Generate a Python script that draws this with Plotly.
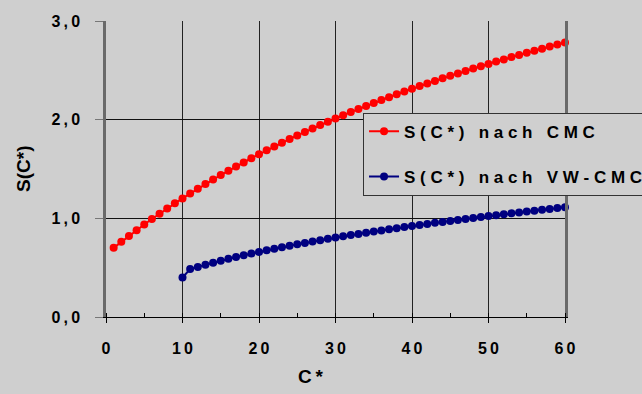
import plotly.graph_objects as go

# C* values and S(C*)
c_cmc = list(range(1, 61))
s_cmc = [0.701, 0.762, 0.822, 0.880, 0.937, 0.993, 1.047, 1.100, 1.152, 1.202,
         1.251, 1.300, 1.347, 1.393, 1.438, 1.482, 1.525, 1.567, 1.609, 1.649,
         1.689, 1.728, 1.766, 1.803, 1.840, 1.875, 1.911, 1.945, 1.979, 2.012,
         2.045, 2.077, 2.108, 2.139, 2.169, 2.199, 2.228, 2.257, 2.285, 2.313,
         2.340, 2.367, 2.393, 2.419, 2.444, 2.469, 2.494, 2.518, 2.542, 2.565,
         2.589, 2.611, 2.634, 2.656, 2.678, 2.699, 2.720, 2.741, 2.761, 2.781]

c_vw = list(range(10, 61))
s_vw = [0.400, 0.486, 0.508, 0.529, 0.550, 0.571, 0.590, 0.608, 0.626, 0.643,
        0.660, 0.676, 0.692, 0.707, 0.722, 0.737, 0.751, 0.765, 0.779, 0.792,
        0.805, 0.818, 0.830, 0.842, 0.854, 0.866, 0.877, 0.889, 0.900, 0.911,
        0.922, 0.933, 0.943, 0.954, 0.964, 0.974, 0.984, 0.994, 1.003, 1.013,
        1.023, 1.032, 1.041, 1.051, 1.060, 1.069, 1.078, 1.087, 1.095, 1.104,
        1.113]

x_ticks = [0, 10, 20, 30, 40, 50, 60]
x_tick_labels = ["0", "10", "20", "30", "40", "50", "60"]
y_ticks = [0, 1, 2, 3]
y_tick_labels = ["0,0", "1,0", "2,0", "3,0"]

name_cmc = "S(C*) nach CMC"
name_vw = "S(C*) nach VW-CMC"

BG = "#cfcfcf"
FONT = "Liberation Sans, Arial, sans-serif"


def spaced(text, gap="\u00a0"):
    # old Excel-style wide letter spacing
    return gap.join(list(text))


fig = go.Figure()

fig.add_trace(go.Scatter(
    x=c_cmc, y=s_cmc, name=spaced(name_cmc), mode="lines+markers",
    line=dict(color="#ff0000", width=2),
    marker=dict(color="#ff0000", size=8),
    cliponaxis=False, legendgroup="a"))

fig.add_trace(go.Scatter(
    x=c_vw, y=s_vw, name=spaced(name_vw), mode="lines+markers",
    line=dict(color="#000080", width=2),
    marker=dict(color="#000080", size=8),
    cliponaxis=False, legendgroup="b"))

fig.update_layout(
    width=642, height=394,
    paper_bgcolor=BG, plot_bgcolor=BG,
    margin=dict(l=106, r=77, t=21, b=77, autoexpand=False),
    font=dict(family=FONT, size=16, color="#000000", weight="bold"),
    showlegend=True,
    legend=dict(x=0.56, y=0.69, xanchor="left", yanchor="top",
                bgcolor=BG, bordercolor="#333333", borderwidth=1,
                font=dict(size=17, weight="bold"),
                traceorder="grouped", tracegroupgap=20),
    annotations=[
        dict(text=spaced("C*", "\u2009"), xref="paper", yref="paper",
             x=0.447, y=-0.2, xanchor="center", yanchor="middle",
             showarrow=False, font=dict(size=19, weight="bold")),
        dict(text="S(C*)", xref="paper", yref="paper",
             x=-0.181, y=0.5, xanchor="center", yanchor="middle",
             showarrow=False, textangle=-90,
             font=dict(size=19, weight="bold")),
    ],
)

fig.update_xaxes(
    range=[0, 60], tickvals=x_ticks,
    ticktext=[spaced(t, "\u2009") for t in x_tick_labels],
    showgrid=True, gridcolor="#222222", gridwidth=1,
    showline=True, linecolor="#000000", linewidth=1,
    ticks="outside", ticklen=5, tickcolor="#000000",
    minor=dict(dtick=5, ticks="inside", ticklen=4, tickcolor="#000000",
               showgrid=False),
    ticklabelstandoff=12, zeroline=False,
)

fig.update_yaxes(
    range=[0, 3], tickvals=y_ticks,
    ticktext=[spaced(t, "\u2009") for t in y_tick_labels],
    showgrid=True, gridcolor="#111111", gridwidth=1,
    showline=True, linecolor="#6a6a6a", linewidth=2.5, mirror=True,
    ticks="outside", ticklen=8, tickcolor="#777777",
    ticklabelstandoff=12, zeroline=False,
)

fig.write_html("out.html", config={"displayModeBar": False},
               post_script="document.body.style.margin='0';"
                           "document.body.style.overflow='hidden';")
